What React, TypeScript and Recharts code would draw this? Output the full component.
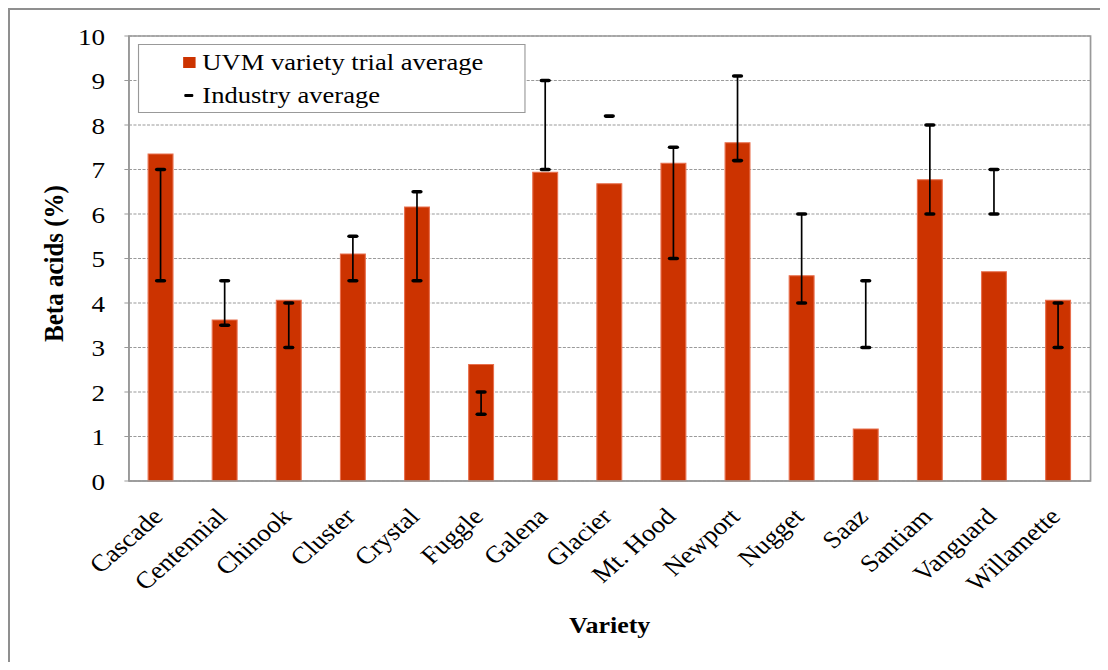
import React from 'react';
import { ComposedChart, Bar, XAxis, YAxis, CartesianGrid, ReferenceArea, Legend, Label } from 'recharts';

const varieties = ['Cascade', 'Centennial', 'Chinook', 'Cluster', 'Crystal', 'Fuggle', 'Galena', 'Glacier', 'Mt. Hood', 'Newport', 'Nugget', 'Saaz', 'Santiam', 'Vanguard', 'Willamette'];
const uvmAverage = [7.35, 3.62, 4.06, 5.1, 6.16, 2.62, 6.94, 6.68, 7.14, 7.6, 4.61, 1.17, 6.77, 4.7, 4.06];
const industryLow = [4.5, 3.5, 3.0, 4.5, 4.5, 1.5, 7.0, 8.2, 5.0, 7.2, 4.0, 3.0, 6.0, 6.0, 3.0];
const industryHigh = [7.0, 4.5, 4.0, 5.5, 6.5, 2.0, 9.0, 8.2, 7.5, 9.1, 6.0, 4.5, 8.0, 7.0, 4.0];
const yTicks = [0, 1, 2, 3, 4, 5, 6, 7, 8, 9, 10];

const data = varieties.map((name, i) => ({
  name,
  uvm: uvmAverage[i],
  industry: [industryLow[i], industryHigh[i]],
}));

const FONT = '"Liberation Serif", "Times New Roman", serif';
const STRETCH = 1.13;

const XTick = (props: any) => {
  const { x, y, payload } = props;
  const ax = x + 3;
  const ay = y + 37;
  return (
    <text x={ax} y={ay} transform={`rotate(-45 ${ax} ${ay})`} textAnchor="end" fontFamily={FONT} fontSize={24} fill="#000">
      {payload.value}
    </text>
  );
};

const ErrShape = (props: any) => {
  const { x, y, width, height } = props;
  if (x == null || y == null) return null;
  const cx = x + width / 2;
  const top = Math.min(y, y + height);
  const bot = Math.max(y, y + height);
  const half = 3.2;
  return (
    <g>
      {bot - top > 0.5 && <line x1={cx} x2={cx} y1={top} y2={bot} stroke="#000" strokeWidth={1.5} />}
      <line x1={cx - half} x2={cx + half} y1={top} y2={top} stroke="#000" strokeWidth={3.6} strokeLinecap="round" />
      {bot - top > 0.5 && <line x1={cx - half} x2={cx + half} y1={bot} y2={bot} stroke="#000" strokeWidth={3.6} strokeLinecap="round" />}
    </g>
  );
};

const YLabel = (props: any) => {
  const vb = props.viewBox || { x: 0, y: 28, width: 107, height: 445 };
  const cx = vb.x + 48.5;
  const cy = vb.y + vb.height / 2 + 5;
  return (
    <text x={cx} y={cy} transform={`rotate(-90 ${cx} ${cy})`} textAnchor="middle" fontFamily={FONT} fontWeight="bold" fontSize={25} fill="#000">
      Beta acids (%)
    </text>
  );
};

const XLabel = (props: any) => {
  const vb = props.viewBox || { x: 107, y: 473, width: 851, height: 181 };
  return (
    <text x={vb.x + vb.width / 2} y={vb.y + 152} textAnchor="middle" fontFamily={FONT} fontWeight="bold" fontSize={23} fill="#000">
      Variety
    </text>
  );
};

const LegendBox = () => (
  <div
    style={{
      position: 'relative',
      width: 343,
      height: 69,
      boxSizing: 'border-box',
      border: '1.5px solid #999',
      background: '#fff',
      fontFamily: FONT,
      fontSize: 23.5,
      lineHeight: '33px',
      color: '#000',
    }}
  >
    <div style={{ position: 'absolute', left: 39, top: 11.5, width: 11, height: 11, background: '#CC3300' }} />
    <span style={{ position: 'absolute', left: 56, top: 0.5, whiteSpace: 'nowrap' }}>UVM variety trial average</span>
    <div style={{ position: 'absolute', left: 40, top: 48.5, width: 8, height: 3, background: '#000', borderRadius: 1 }} />
    <span style={{ position: 'absolute', left: 56, top: 33.5, whiteSpace: 'nowrap' }}>Industry average</span>
  </div>
);

export default function App() {
  return (
    <div style={{ position: 'relative', width: 1100, height: 654, overflow: 'hidden', fontFamily: FONT }}>
      <div
        style={{
          position: 'absolute',
          left: 0,
          top: 0,
          width: 1130,
          height: 700,
          border: '2px solid #8f8f8f',
        }}
      />
      <div style={{ position: 'absolute', left: 0, top: 0, transform: `scaleX(${STRETCH})`, transformOrigin: '0 0' }}>
        <ComposedChart width={975} height={654} data={data} margin={{ top: 28, right: 17, left: 0, bottom: 0 }} barCategoryGap={0}>
          <CartesianGrid vertical={false} stroke="#9a9a9a" strokeDasharray="2.7 1.3" />
          <XAxis
            dataKey="name"
            height={181}
            interval={0}
            tick={<XTick />}
            tickLine={false}
            tickSize={0}
            tickMargin={0}
            axisLine={{ stroke: '#999', strokeWidth: 1.5 }}
          >
            <Label content={<XLabel />} />
          </XAxis>
          <XAxis xAxisId="err" dataKey="name" hide />
          <YAxis
            width={107}
            domain={[0, 10]}
            ticks={yTicks}
            interval={0}
            tickSize={4}
            tickMargin={17}
            tickLine={{ stroke: '#999' }}
            axisLine={{ stroke: '#999', strokeWidth: 1.5 }}
            tick={{ fontFamily: FONT, fontSize: 24, fill: '#000' }}
          >
            <Label content={<YLabel />} />
          </YAxis>
          <ReferenceArea y1={0} y2={10} fill="none" stroke="#999" strokeWidth={1.5} ifOverflow="visible" />
          <Bar dataKey="uvm" name="UVM variety trial average" fill="#CC3300" stroke="#E8704E" strokeWidth={1} barSize={22} isAnimationActive={false} />
          <Bar xAxisId="err" dataKey="industry" name="Industry average" barSize={12} shape={<ErrShape />} isAnimationActive={false} />
          <Legend
            layout="vertical"
            align="center"
            verticalAlign="middle"
            content={<LegendBox />}
            wrapperStyle={{ left: 115, top: 36, width: 343, height: 69 }}
          />
        </ComposedChart>
      </div>
    </div>
  );
}
